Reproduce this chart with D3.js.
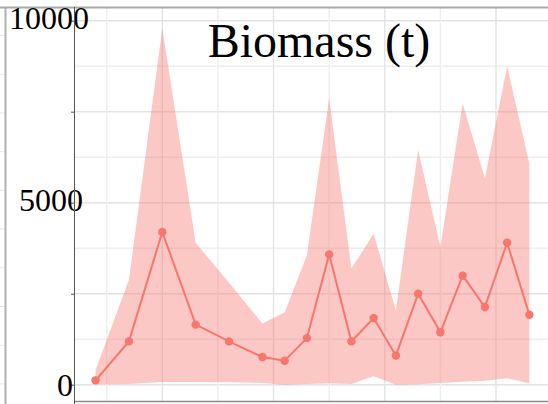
<!DOCTYPE html>
<html>
<head>
<meta charset="utf-8">
<script src="https://cdn.jsdelivr.net/npm/d3@7"></script>
<style>
  html, body { margin: 0; padding: 0; background: #fff; }
  svg { display: block; }
</style>
</head>
<body>
<svg id="chart" width="548" height="404"></svg>
<script>
// ---- data ----
const years  = [1984, 1987, 1990, 1993, 1996, 1999, 2001, 2003, 2005, 2007, 2009, 2011, 2013, 2015, 2017, 2019, 2021, 2023];
const median = [120, 1190, 4195, 1650, 1190, 760, 660, 1280, 3580, 1190, 1830, 800, 2500, 1440, 2995, 2135, 3900, 1920];
const upper  = [400, 2880, 9790, 3900, 2800, 1680, 1990, 3555, 7870, 3190, 4150, 2040, 6450, 3780, 7730, 5670, 8750, 6080];
const lower  = [10, 20, 75, 75, 65, 50, 0, 20, 40, 20, 230, 0, 10, 50, 80, 110, 175, 40];
const yTickValues = [0, 2500, 5000, 7500, 10000];
const yTickLabels = ["0", "", "5000", "", "10000"];
const yGridValues = [0, 1250, 2500, 3750, 5000, 6250, 7500, 8750, 10000];
const xGridValues = [1985, 1990, 1995, 2000, 2005, 2010, 2015, 2020, 2025];
const title = "Biomass (t)";

// ---- layout ----
const W = 548, H = 404;
const panelLeft = 74, panelTop = 8, panelBottom = 401;
const svg = d3.select("#chart");

const x = d3.scaleLinear().domain([1990, 2020]).range([162.3, 496]);
const y = d3.scaleLinear().domain([0, 10000]).range([384.7, 20.7]);

const serif = "'Liberation Serif', 'DejaVu Serif', serif";

// neighbouring panel remnants on the far left
svg.append("g").selectAll("line")
  .data(d3.range(0, 10))
  .join("line")
  .attr("x1", 0).attr("x2", 5)
  .attr("y1", i => 35.6 + i * 38.7).attr("y2", i => 35.6 + i * 38.7)
  .attr("stroke", "#e6e6e6").attr("stroke-width", 1);
svg.append("line")
  .attr("x1", 5.5).attr("x2", 5.5).attr("y1", panelTop).attr("y2", H)
  .attr("stroke", "#b0b0b0").attr("stroke-width", 2);

// clip for panel
svg.append("clipPath").attr("id", "panel")
  .append("rect").attr("x", panelLeft).attr("y", panelTop)
  .attr("width", W - panelLeft).attr("height", panelBottom - panelTop);

const g = svg.append("g").attr("clip-path", "url(#panel)");

// gridlines
g.append("g").selectAll("line")
  .data(yGridValues)
  .join("line")
  .attr("x1", panelLeft).attr("x2", W)
  .attr("y1", d => y(d)).attr("y2", d => y(d))
  .attr("stroke", d => d % 2500 === 0 ? "#e3e3e3" : "#eeeeee")
  .attr("stroke-width", 1.4);
g.append("g").selectAll("line")
  .data(xGridValues)
  .join("line")
  .attr("x1", d => x(d)).attr("x2", d => x(d))
  .attr("y1", panelTop).attr("y2", panelBottom)
  .attr("stroke", d => d % 10 === 0 ? "#e3e3e3" : "#eeeeee")
  .attr("stroke-width", 1.4);

// ribbon
const rows = years.map((yr, i) => ({yr, m: median[i], lo: lower[i], hi: upper[i]}));
g.append("path")
  .datum(rows)
  .attr("d", d3.area().x(d => x(d.yr)).y0(d => y(d.lo)).y1(d => y(d.hi)))
  .attr("fill", "#F8766D").attr("fill-opacity", 0.4);

// line + points
g.append("path")
  .datum(rows)
  .attr("d", d3.line().x(d => x(d.yr)).y(d => y(d.m)))
  .attr("fill", "none").attr("stroke", "#F8766D").attr("stroke-width", 2);
g.append("g").selectAll("circle")
  .data(rows)
  .join("circle")
  .attr("cx", d => x(d.yr)).attr("cy", d => y(d.m)).attr("r", 4.2)
  .attr("fill", "#F8766D");

// top border and bottom axis line
svg.append("line")
  .attr("x1", 0).attr("x2", W).attr("y1", panelTop - 0.5).attr("y2", panelTop - 0.5)
  .attr("stroke", "#a8a8a8").attr("stroke-width", 2);
svg.append("line")
  .attr("x1", panelLeft).attr("x2", W).attr("y1", panelBottom + 0.5).attr("y2", panelBottom + 0.5)
  .attr("stroke", "#8a8a8a").attr("stroke-width", 1.5);

// y axis
const yAxis = d3.axisLeft(y)
  .tickValues(yTickValues)
  .tickSize(3)
  .tickSizeOuter(0)
  .tickFormat((d, i) => yTickLabels[i]);
const ag = svg.append("g").attr("transform", `translate(${panelLeft},0)`).call(yAxis);
ag.select(".domain").remove();
ag.append("line").attr("x1", 0.5).attr("x2", 0.5).attr("y1", panelTop - 1).attr("y2", H)
  .attr("stroke", "#555").attr("stroke-width", 1);
ag.selectAll(".tick line").attr("stroke", "#555");
ag.selectAll(".tick text")
  .attr("font-family", serif)
  .attr("font-size", 32)
  .attr("fill", "#000")
  .attr("text-anchor", "end")
  .attr("dy", "0.3em")
  .attr("x", (d, i) => yTickLabels[i].length > 1 ? 9 + (yTickLabels[i].length - 4) * 6 : -1)
  .attr("dy", (d, i) => yTickLabels[i].length > 1 ? "0.25em" : "0.33em");
ag.raise();

// title
svg.append("text")
  .attr("x", 319).attr("y", 57)
  .attr("text-anchor", "middle")
  .attr("font-family", serif)
  .attr("font-size", 48)
  .attr("fill", "#000")
  .text(title);
</script>
</body>
</html>
